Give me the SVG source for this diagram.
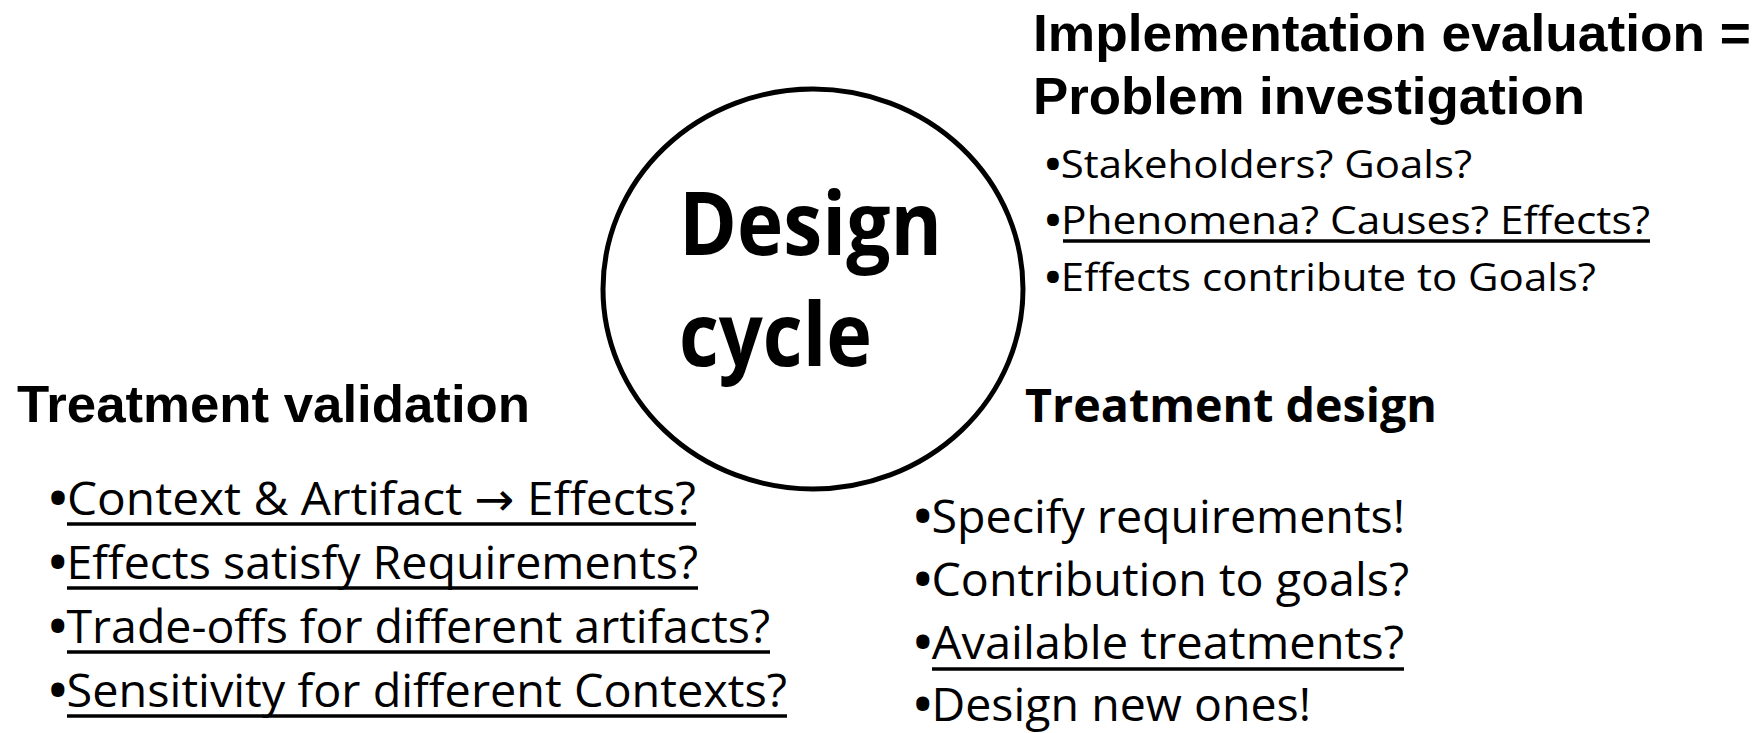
<svg xmlns="http://www.w3.org/2000/svg" width="1762" height="733" viewBox="0 0 1762 733">
<style>
.h{font-family:"Liberation Sans",Arial,sans-serif;font-weight:bold;fill:#000}
.hb{font-family:"Open Sans","Noto Sans",sans-serif;font-weight:bold;fill:#000}
.b{font-family:"Open Sans","Noto Sans","DejaVu Sans",sans-serif;fill:#000}
.d{font-weight:bold}
.u{stroke:#000;stroke-width:3.5}
</style>
<rect width="1762" height="733" fill="#fff"/>
<g id="design-cycle">
<ellipse cx="813" cy="289" rx="210" ry="200" fill="none" stroke="#000" stroke-width="5"/>
<text class="hb" x="679" y="255" font-size="88" textLength="263" lengthAdjust="spacingAndGlyphs">Design</text>
<text class="hb" x="679" y="366" font-size="88" textLength="193" lengthAdjust="spacingAndGlyphs">cycle</text>
</g>
<g id="problem-investigation">
<text class="h" x="1033" y="51" font-size="52" textLength="718" lengthAdjust="spacingAndGlyphs">Implementation evaluation =</text>
<text class="h" x="1033" y="114" font-size="52" textLength="552" lengthAdjust="spacingAndGlyphs">Problem investigation</text>
<text class="b" x="1045" y="178" font-size="39" textLength="427" lengthAdjust="spacingAndGlyphs"><tspan class="d">•</tspan>Stakeholders? Goals?</text>
<text class="b" x="1045" y="234" font-size="39" textLength="605" lengthAdjust="spacingAndGlyphs"><tspan class="d">•</tspan>Phenomena? Causes? Effects?</text>
<line class="u" x1="1063" y1="241" x2="1650" y2="241"/>
<text class="b" x="1045" y="291" font-size="39" textLength="551" lengthAdjust="spacingAndGlyphs"><tspan class="d">•</tspan>Effects contribute to Goals?</text>
</g>
<g id="treatment-validation">
<text class="h" x="17" y="422" font-size="52" textLength="513" lengthAdjust="spacingAndGlyphs">Treatment validation</text>
<text class="b" x="49" y="515" font-size="46" textLength="647" lengthAdjust="spacingAndGlyphs"><tspan class="d">•</tspan>Context &amp; Artifact → Effects?</text>
<line class="u" x1="67" y1="524" x2="696" y2="524"/>
<text class="b" x="49" y="579" font-size="46" textLength="649" lengthAdjust="spacingAndGlyphs"><tspan class="d">•</tspan>Effects satisfy Requirements?</text>
<line class="u" x1="67" y1="588" x2="698" y2="588"/>
<text class="b" x="49" y="643" font-size="46" textLength="721" lengthAdjust="spacingAndGlyphs"><tspan class="d">•</tspan>Trade-offs for different artifacts?</text>
<line class="u" x1="67" y1="652" x2="770" y2="652"/>
<text class="b" x="49" y="707" font-size="46" textLength="738" lengthAdjust="spacingAndGlyphs"><tspan class="d">•</tspan>Sensitivity for different Contexts?</text>
<line class="u" x1="67" y1="716" x2="787" y2="716"/>
</g>
<g id="treatment-design">
<text class="hb" x="1025" y="422" font-size="46" textLength="412" lengthAdjust="spacingAndGlyphs">Treatment design</text>
<text class="b" x="914" y="533" font-size="46" textLength="491" lengthAdjust="spacingAndGlyphs"><tspan class="d">•</tspan>Specify requirements!</text>
<text class="b" x="914" y="596" font-size="46" textLength="495" lengthAdjust="spacingAndGlyphs"><tspan class="d">•</tspan>Contribution to goals?</text>
<text class="b" x="914" y="659" font-size="46" textLength="490" lengthAdjust="spacingAndGlyphs"><tspan class="d">•</tspan>Available treatments?</text>
<line class="u" x1="932" y1="669" x2="1404" y2="669"/>
<text class="b" x="914" y="721" font-size="46" textLength="397" lengthAdjust="spacingAndGlyphs"><tspan class="d">•</tspan>Design new ones!</text>
</g>
<g id="connectors"></g>
</svg>
